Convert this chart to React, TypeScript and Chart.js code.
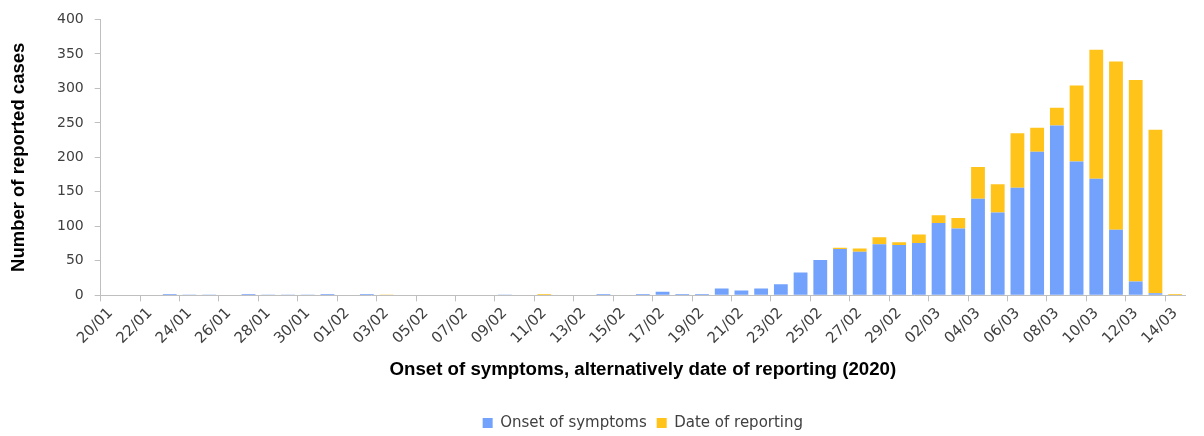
import React, { useEffect, useRef } from 'react';
import { Chart, registerables } from 'chart.js';

Chart.register(...registerables);

const dates = [
  '20/01', '21/01', '22/01', '23/01', '24/01', '25/01', '26/01', '27/01', '28/01', '29/01', '30/01', '31/01',
  '01/02', '02/02', '03/02', '04/02', '05/02', '06/02', '07/02', '08/02', '09/02', '10/02', '11/02', '12/02',
  '13/02', '14/02', '15/02', '16/02', '17/02', '18/02', '19/02', '20/02', '21/02', '22/02', '23/02', '24/02',
  '25/02', '26/02', '27/02', '28/02', '29/02',
  '01/03', '02/03', '03/03', '04/03', '05/03', '06/03', '07/03', '08/03', '09/03', '10/03', '11/03', '12/03',
  '13/03', '14/03',
];

const onsetOfSymptoms = [
  0, 0, 0, 2, 1, 1, 0, 2, 1, 1, 1, 2,
  0, 2, 0, 0, 0, 0, 0, 0, 1, 0, 0, 0,
  0, 2, 0, 2, 5, 2, 2, 10, 7, 10, 16, 33,
  51, 67, 63, 74, 73,
  76, 105, 97, 140, 120, 156, 208, 246, 194, 169, 95, 20,
  3, 0,
];

const dateOfReporting = [
  0, 0, 0, 0, 0, 0, 0, 0, 0, 0, 0, 0,
  0, 0, 1, 0, 0, 0, 0, 0, 0, 0, 2, 0,
  0, 0, 0, 0, 0, 0, 0, 0, 0, 0, 0, 0,
  0, 2, 5, 10, 4,
  12, 11, 15, 46, 41, 79, 35, 26, 110, 187, 244, 292,
  237, 2,
];

const yMin = 0;
const yMax = 400;
const yStep = 50;

const seriesNames = ['Onset of symptoms', 'Date of reporting'];
const xTitle = 'Onset of symptoms, alternatively date of reporting (2020)';
const yTitle = 'Number of reported cases';

const AXIS_GREY = '#bfbfbf';
const TEXT_GREY = '#404040';

export default function App() {
  const ref = useRef<HTMLCanvasElement>(null);

  useEffect(() => {
    document.body.style.margin = '0';
    const canvas = ref.current;
    if (!canvas) return;
    const chart = new Chart(canvas, {
      type: 'bar',
      data: {
        labels: dates,
        datasets: [
          {
            label: seriesNames[0],
            data: onsetOfSymptoms,
            backgroundColor: '#72A2FB',
            borderWidth: 0,
          },
          {
            label: seriesNames[1],
            data: dateOfReporting,
            backgroundColor: '#FFC31A',
            borderWidth: 0,
          },
        ],
      },
      options: {
        responsive: false,
        animation: false,
        datasets: {
          bar: { categoryPercentage: 1, barPercentage: 0.7 },
        },
        layout: { padding: { left: 0, right: 19, top: 18, bottom: -4.5 } },
        plugins: {
          tooltip: { enabled: false },
          legend: {
            position: 'bottom',
            fullSize: false,
            labels: {
              boxWidth: 10,
              boxHeight: 10,
              padding: 10,
              color: TEXT_GREY,
              font: { family: 'DejaVu Sans', size: 15 },
            },
          },
        },
        scales: {
          x: {
            stacked: true,
            offset: true,
            afterFit: (scale: any) => { scale.height = 110.2; },
            grid: {
              offset: true,
              drawOnChartArea: false,
              drawTicks: true,
              tickLength: 6,
              color: (ctx: any) => (ctx.index !== undefined && ctx.index % 2 === 0 ? AXIS_GREY : 'rgba(0,0,0,0)'),
            },
            border: { display: true, color: AXIS_GREY, width: 1 },
            ticks: {
              autoSkip: false,
              minRotation: 45,
              maxRotation: 45,
              padding: 3,
              color: TEXT_GREY,
              font: { family: 'DejaVu Sans', size: 15 },
              callback: (_v: any, i: number) => (i % 2 === 0 ? dates[i] : ''),
            },
            title: {
              display: true,
              text: xTitle,
              color: '#000000',
              font: { family: 'Liberation Sans', size: 18.7, weight: 'bold' },
              padding: { top: 0, bottom: 24.5 },
            },
          },
          y: {
            stacked: true,
            min: yMin,
            max: yMax,
            afterFit: (scale: any) => { scale.width = 100.7; },
            grid: {
              drawOnChartArea: false,
              drawTicks: true,
              tickLength: 6,
              color: AXIS_GREY,
            },
            border: { display: true, color: AXIS_GREY, width: 1 },
            ticks: {
              stepSize: yStep,
              padding: 11,
              color: TEXT_GREY,
              font: { family: 'DejaVu Sans', size: 14 },
            },
            title: {
              display: true,
              text: yTitle,
              color: '#000000',
              font: { family: 'Liberation Sans', size: 18.5, weight: 'bold' },
              padding: { top: 8, bottom: 0 },
            },
          },
        },
      },
    });
    return () => chart.destroy();
  }, []);

  return (
    <div style={{ width: 1204, height: 436 }}>
      <canvas ref={ref} width={1204} height={436} style={{ display: 'block' }} />
    </div>
  );
}
